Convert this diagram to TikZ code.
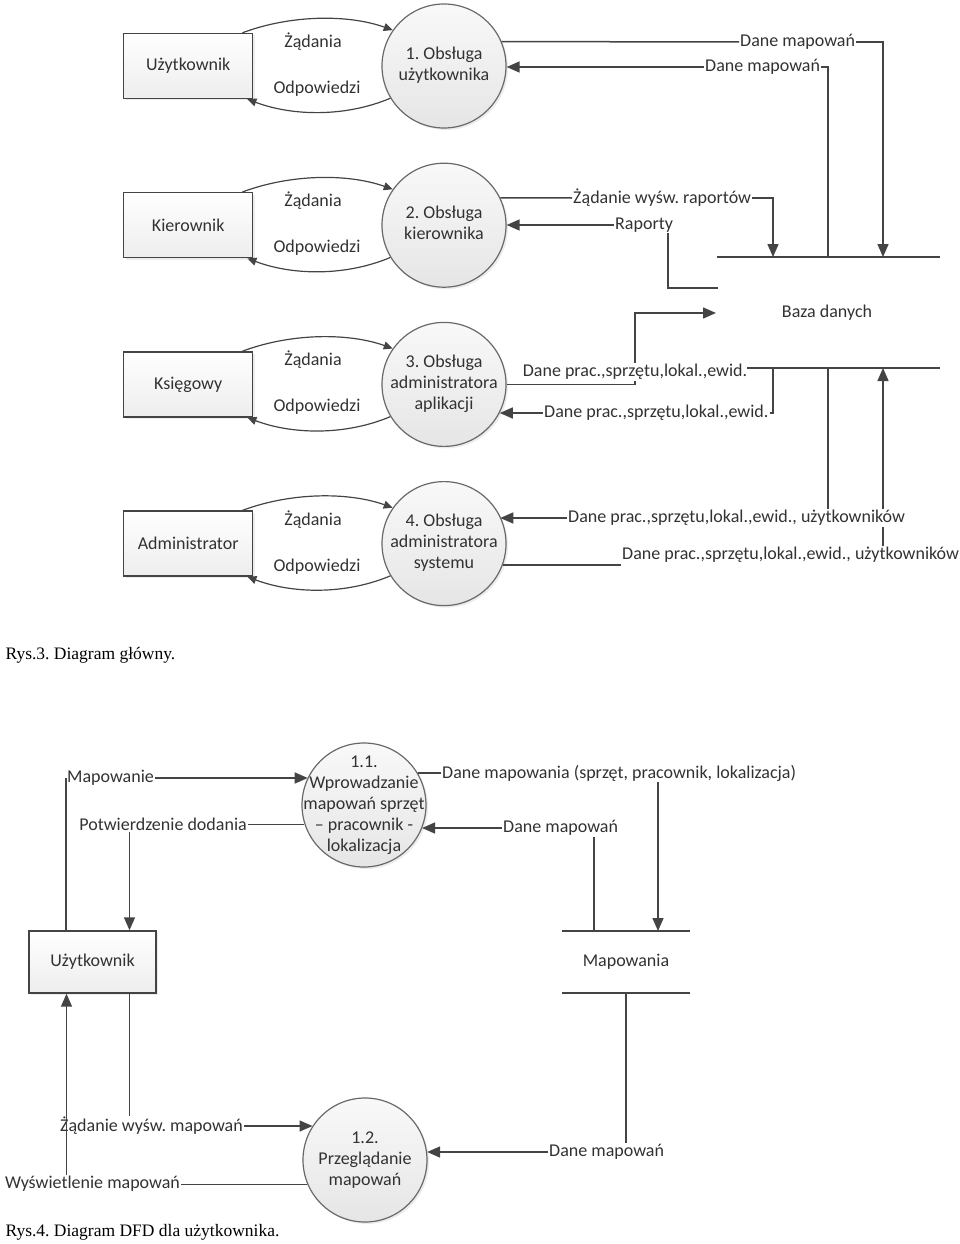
\documentclass[tikz,border=0pt]{standalone}
\usepackage{fontspec}
\setmainfont{Carlito}
\newfontfamily\capfont{Liberation Serif}
\usepackage{tikz}
\usetikzlibrary{positioning, arrows.meta, shadows}
\definecolor{linegray}{RGB}{68,68,68}
\definecolor{textgray}{RGB}{50,50,50}
\definecolor{procframe}{RGB}{105,105,105}
\newcommand{\proctext}[1]{\makebox[0pt]{\begin{tabular}{@{}c@{}}#1\end{tabular}}}
\frenchspacing

\begin{document}
\begin{tikzpicture}[x=1pt, y=-1pt,
        font=\fontsize{18}{21}\selectfont, text=textgray,
        ent/.style={draw=linegray, line width=1.4pt, rectangle, minimum width=129pt, minimum height=65pt, top color=white, bottom color=gray!14, drop shadow={opacity=0.15, shadow xshift=2pt, shadow yshift=-2pt}},
        proc/.style={draw=procframe, line width=1.2pt, circle, minimum size=124pt, inner sep=0pt, top color=gray!5, bottom color=gray!20, drop shadow={opacity=0.15, shadow xshift=2pt, shadow yshift=-2pt}},
        lbl/.style={inner sep=1pt},
        storelbl/.style={inner sep=0pt},
        conn/.style={draw=linegray, line width=1.5pt},
        arr/.style={conn, -{Triangle[length=13pt, width=11pt]}},
        flow/.style={draw=linegray, line width=1.2pt, -{Triangle[length=9pt, width=8pt]}},
        figcaption/.style={anchor=west, text=black, font=\capfont\fontsize{17.5}{20}\selectfont}
    ]
    \useasboundingbox (0,0) rectangle (960,1244);

    \node[proc] (p1) at (444,66) {\proctext{1. Obsługa\\użytkownika}};
    \node[proc, below=34pt of p1] (p2) {\proctext{2. Obsługa\\kierownika}};
    \node[proc, below=34pt of p2] (p3) {\proctext{3. Obsługa\\administratora\\aplikacji}};
    \node[proc, below=34pt of p3] (p4) {\proctext{4. Obsługa\\administratora\\systemu}};

    \node[ent, left=128pt of p1] (uzyt) {Użytkownik};
    \node[ent, left=128pt of p2] (kier) {Kierownik};
    \node[ent, left=128pt of p3] (ksieg) {Księgowy};
    \node[ent, left=128pt of p4] (admin) {Administrator};

    \node[lbl] (z1) at (313,42) {Żądania};
    \node[lbl] (o1) at (317,89) {Odpowiedzi};
    \node[lbl] (z2) at (313,201) {Żądania};
    \node[lbl] (o2) at (317,248) {Odpowiedzi};
    \node[lbl] (z3) at (313,360) {Żądania};
    \node[lbl] (o3) at (317,407) {Odpowiedzi};
    \node[lbl] (z4) at (313,520) {Żądania};
    \node[lbl] (o4) at (317,567) {Odpowiedzi};

    \draw[flow] ([xshift=-11pt]uzyt.north east) .. controls +(48,-18) and +(-45,-16) .. (p1.145);
    \draw[flow] (p1.211) .. controls +(-45,19) and +(45,17) .. ([xshift=-6pt]uzyt.south east);
    \draw[flow] ([xshift=-11pt]kier.north east) .. controls +(48,-18) and +(-45,-16) .. (p2.145);
    \draw[flow] (p2.211) .. controls +(-45,19) and +(45,17) .. ([xshift=-6pt]kier.south east);
    \draw[flow] ([xshift=-11pt]ksieg.north east) .. controls +(48,-18) and +(-45,-16) .. (p3.145);
    \draw[flow] (p3.211) .. controls +(-45,19) and +(45,17) .. ([xshift=-6pt]ksieg.south east);
    \draw[flow] ([xshift=-11pt]admin.north east) .. controls +(48,-18) and +(-45,-16) .. (p4.145);
    \draw[flow] (p4.211) .. controls +(-45,19) and +(45,17) .. ([xshift=-6pt]admin.south east);

    \node[storelbl] (db) at (827,313) {Baza danych};
    \coordinate (dbTL) at (717,257);
    \coordinate (dbTR) at (940,257);
    \coordinate (dbBL) at (747,368);
    \coordinate (dbBR) at (940,368);
    \coordinate (dbT1) at (773,257);
    \coordinate (dbT2) at (828,257);
    \coordinate (dbT3) at (883,257);
    \coordinate (dbB1) at (773,368);
    \coordinate (dbB2) at (828,368);
    \coordinate (dbB3) at (883,368);
    \coordinate (dbW1) at (716,313);
    \coordinate (dbW2) at (718,288);
    \draw[conn] (dbTL) -- (dbTR);
    \draw[conn] (dbBL) -- (dbBR);

    \node[lbl, anchor=west] (l1a) at (739,42) {Dane mapowań};
    \node[lbl, anchor=west] (l1b) at (704,67) {Dane mapowań};
    \node[lbl, anchor=west] (l2a) at (572,198) {Żądanie wyśw. raportów};
    \node[lbl, anchor=west] (l2b) at (614,225) {Raporty};
    \node[lbl] (l3a) at (635,372) {Dane prac.,sprzętu,lokal.,ewid.};
    \node[lbl, anchor=west] (l3b) at (543,413) {Dane prac.,sprzętu,lokal.,ewid.};
    \node[lbl, anchor=west] (l4a) at (567,518) {Dane prac.,sprzętu,lokal.,ewid., użytkowników};
    \node[lbl, anchor=west] (l4b) at (621,555) {Dane prac.,sprzętu,lokal.,ewid., użytkowników};

    \draw[conn] (p1.23) -- (l1a.west);
    \draw[arr] (l1a.east) -| (dbT3);
    \draw[conn] (dbT2) |- (l1b.east);
    \draw[arr] (l1b.west) -- (l1b.west -| p1.east);

    \draw[conn] (p2.26) -- (l2a.west);
    \draw[arr] (l2a.east) -| (dbT1);
    \draw[conn] (dbW2) -| ([xshift=-6pt]l2b.south east);
    \draw[arr] (l2b.west) -- (l2b.west -| p2.east);

    \draw[conn] (p3.east) -| (l3a.south);
    \draw[arr] (l3a.north) |- (dbW1);
    \draw[conn] (dbB1) |- (l3b.east);
    \draw[arr] (l3b.west) -- (l3b.west -| p3.333);

    \draw[conn] (dbB2) -- (dbB2 |- l4a.north);
    \draw[arr] (l4a.west) -- (l4a.west -| p4.26);
    \draw[conn] (p4.340) -- (p4.340 -| l4b.west);
    \draw[conn] (dbB3 |- l4b.north) -- (dbB3 |- l4a.south);
    \draw[arr] (dbB3 |- l4a.north) -- (dbB3);

    \node[figcaption] (cap3) at (2,655) {Rys.3. Diagram główny.};

    \node[proc] (c11) at (364,805) {\proctext{1.1.\\Wprowadzanie\\mapowań sprzęt\\– pracownik -\\lokalizacja}};
    \node[proc] (c12) at (365,1160) {\proctext{1.2.\\Przeglądanie\\mapowań}};
    \node[ent, minimum width=127pt, minimum height=62pt] (usr) at (92.5,962) {Użytkownik};

    \node[storelbl] (map) at (626,962) {Mapowania};
    \coordinate (mTL) at (562,931);
    \coordinate (mTR) at (690,931);
    \coordinate (mBL) at (562,993);
    \coordinate (mBR) at (690,993);
    \coordinate (mT1) at (594,931);
    \coordinate (mT2) at (658,931);
    \coordinate (mB) at (626,993);
    \draw[conn] (mTL) -- (mTR);
    \draw[conn] (mBL) -- (mBR);

    \node[lbl, anchor=west] (lMap) at (66,778) {Mapowanie};
    \node[lbl, anchor=east] (lConf) at (248,824) {Potwierdzenie dodania};
    \node[lbl, anchor=west] (lDM) at (441,773) {Dane mapowania (sprzęt, pracownik, lokalizacja)};
    \node[lbl, anchor=west] (lDM2) at (502,828) {Dane mapowań};
    \node[lbl, anchor=east] (lReq) at (244,1126) {Żądanie wyśw. mapowań};
    \node[lbl, anchor=west] (lShow) at (4,1184) {Wyświetlenie mapowań};
    \node[lbl, anchor=west] (lDane2) at (548,1152) {Dane mapowań};

    \draw[conn] (usr.north -| lMap.west) -- (lMap.west);
    \draw[arr] (lMap.east) -- (lMap.east -| c11.154);
    \draw[conn] (c11.198) -- (c11.198 -| lConf.east);
    \draw[arr] ([xshift=37pt]usr.north |- lConf.south) -- ([xshift=37pt]usr.north);
    \draw[conn] (c11.31) -- (c11.31 -| lDM.west);
    \draw[arr] (mT2 |- lDM.south) -- (mT2);
    \draw[conn] (mT1) -- (mT1 |- lDM2.south);
    \draw[arr] (lDM2.west) -- (lDM2.west -| c11.338);

    \draw[conn] (mB) -- (mB |- lDane2.north);
    \draw[arr] (lDane2.west) -- (lDane2.west -| c12.7);
    \draw[conn] ([xshift=37pt]usr.south) -- ([xshift=37pt]usr.south |- lReq.north);
    \draw[arr] (lReq.east) -- (lReq.east -| c12.147);
    \draw[conn] (c12.203) -- (c12.203 -| lShow.east);
    \draw[arr] ([xshift=-26pt]usr.south |- lShow.north) -- ([xshift=-26pt]usr.south);

    \node[figcaption] (cap4) at (2,1232) {Rys.4. Diagram DFD dla użytkownika.};
\end{tikzpicture}
\end{document}
